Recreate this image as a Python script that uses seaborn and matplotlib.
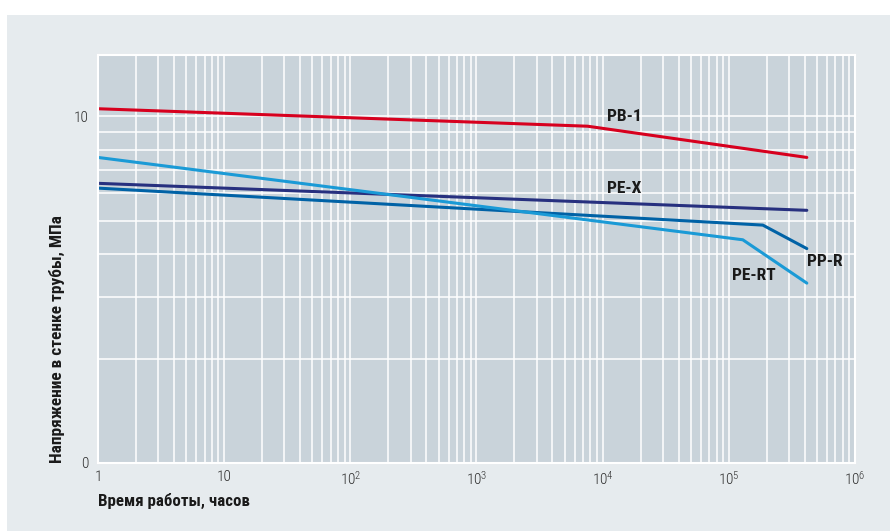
import pandas as pd
import matplotlib.pyplot as plt
import matplotlib.patches as mpatches
import matplotlib.ticker as mticker
import seaborn as sns
import numpy as np


# hours of operation vs. hoop stress in pipe wall (MPa)
pb1_hours = [1, 7600, 415000]
pb1_stress = [10.5, 9.35, 7.6]

pex_hours = [1, 415000]
pex_stress = [6.4, 5.35]

ppr_hours = [1, 186000, 415000]
ppr_stress = [6.2, 4.85, 4.15]

pert_hours = [1, 129000, 415000]
pert_stress = [7.6, 4.4, 3.3]

x_ticks = [1, 10, 1e2, 1e3, 1e4, 1e5, 1e6]
x_tick_labels = ['1', '10', '$10^2$', '$10^3$', '$10^4$', '$10^5$', '$10^6$']
y_ticks = [1, 10]
y_tick_labels = ['0', '10']

colors = {'PB-1': '#d7001e', 'PE-X': '#27307f', 'PP-R': '#0062a6', 'PE-RT': '#1a9ad6'}

frames = []
for name, h, s in [('PB-1', pb1_hours, pb1_stress), ('PE-X', pex_hours, pex_stress),
                   ('PP-R', ppr_hours, ppr_stress), ('PE-RT', pert_hours, pert_stress)]:
    frames.append(pd.DataFrame({'hours': h, 'stress': s, 'material': name}))
df = pd.concat(frames, ignore_index=True)

sns.set_theme(style="white")
plt.rcParams['font.family'] = ['Roboto Condensed', 'Roboto', 'DejaVu Sans']
plt.rcParams['mathtext.fontset'] = 'custom'
plt.rcParams['mathtext.rm'] = 'Roboto Condensed:light'
plt.rcParams['mathtext.it'] = 'Roboto Condensed:light'

fig = plt.figure(figsize=(8.9, 5.31), dpi=100)
fig.patch.set_facecolor('white')
bg = mpatches.Rectangle((7 / 890, 0), 1, (531 - 15) / 531, transform=fig.transFigure,
                        facecolor='#e6ebee', edgecolor='none', zorder=-10)
fig.patches.append(bg)

ax = fig.add_axes([98 / 890, 68 / 531, 757 / 890, 408 / 531])
ax.set_facecolor('#c9d3da')

sns.lineplot(data=df, x='hours', y='stress', hue='material', palette=colors,
             sort=False, estimator=None, linewidth=2.2, legend=False, ax=ax)

ax.set_xscale('log')
ax.set_yscale('log')
ax.set_xlim(1, 1e6)
ax.set_ylim(1, 15)

ax.xaxis.set_major_locator(mticker.FixedLocator(x_ticks))
ax.xaxis.set_major_formatter(mticker.FixedFormatter(x_tick_labels))
ax.xaxis.set_minor_locator(mticker.LogLocator(base=10, subs=np.arange(2, 10), numticks=20))
ax.xaxis.set_minor_formatter(mticker.NullFormatter())
ax.yaxis.set_major_locator(mticker.FixedLocator(y_ticks))
ax.yaxis.set_major_formatter(mticker.FixedFormatter(y_tick_labels))
ax.yaxis.set_minor_locator(mticker.FixedLocator([2, 3, 4, 5, 6, 7, 8, 9]))
ax.yaxis.set_minor_formatter(mticker.NullFormatter())

ax.grid(which='both', color='white', linewidth=1.1)
ax.set_axisbelow(True)
for s in ax.spines.values():
    s.set_color('white')
    s.set_linewidth(1.5)

ax.tick_params(which='both', length=0, labelsize=11, colors='#2e2e2e')
for t in ax.get_xticklabels() + ax.get_yticklabels():
    t.set_fontweight('light')
ax.tick_params(axis='x', pad=5)
ax.tick_params(axis='y', pad=7)

ax.set_xlabel('')
ax.set_ylabel('')
fig.text(98 / 890, 1 - 501 / 531, 'Время работы, часов', fontsize=12.2, fontweight='bold',
         color='#1a1a1a', ha='left', va='center')
fig.text(57 / 890, 68 / 531, 'Напряжение в стенке трубы, МПа', fontsize=12.5, fontweight='bold',
         color='#1a1a1a', rotation=90, ha='center', va='bottom')

lbl = dict(fontsize=12.5, fontweight='bold', color='#1a1a1a', va='center', ha='left')
ax.text(10800, 10, 'PB-1', **lbl)
ax.text(10800, 6.2, 'PE-X', **lbl)
ax.text(420000, 3.8, 'PP-R', **lbl)
ax.text(106000, 3.48, 'PE-RT', **lbl)

plt.savefig('out.png', dpi=100)
plt.close()
